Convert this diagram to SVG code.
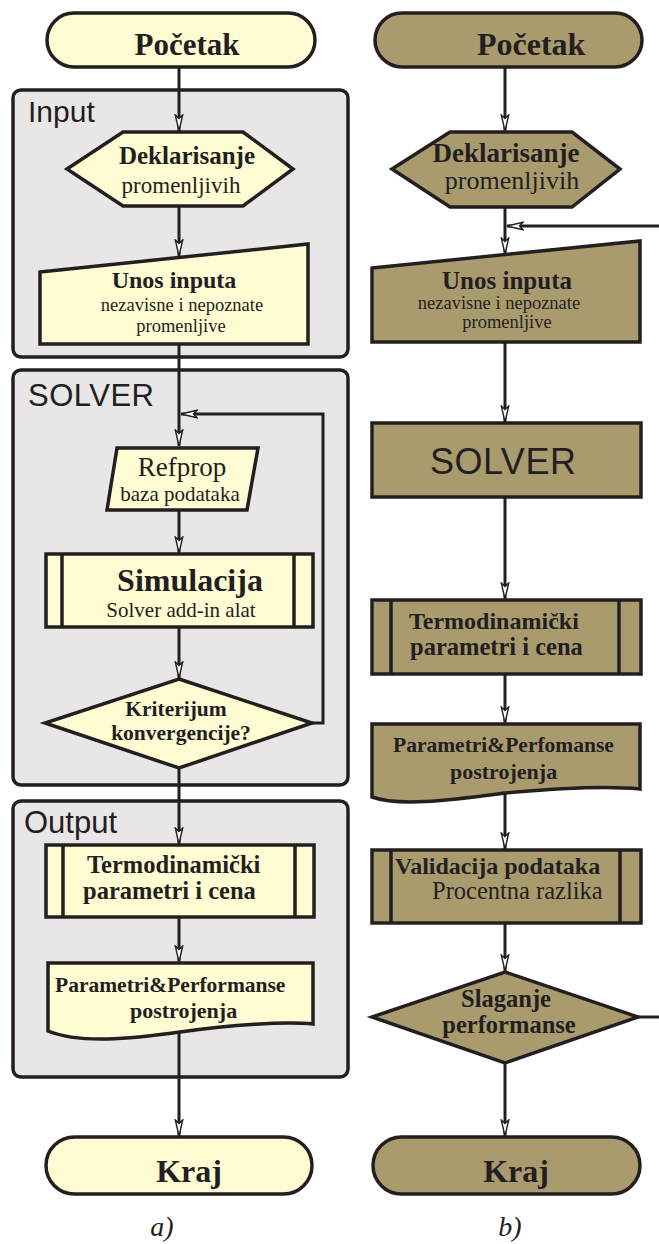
<svg xmlns="http://www.w3.org/2000/svg" width="659" height="1244" viewBox="0 0 659 1244">
<style>
.grp{fill:#e8e6e7;stroke:#231f20;stroke-width:3.5}
.a{fill:#fffbd2;stroke:#231f20;stroke-width:3.5;stroke-linejoin:miter}
.b{fill:#a99b6d;stroke:#231f20;stroke-width:3.5;stroke-linejoin:miter}
.in{stroke:#231f20;stroke-width:3.5;fill:none}
.c{stroke:#231f20;stroke-width:3;fill:none;marker-end:url(#arr)}
.cn{stroke:#231f20;stroke-width:3;fill:none}
.t{font-family:"Liberation Serif","Times New Roman",serif;fill:#231f20}
.bd{font-weight:bold}
.s{font-family:"Liberation Sans",Arial,sans-serif;fill:#231f20}
.m{text-anchor:middle}
</style>
<defs>
<marker id="arr" markerUnits="userSpaceOnUse" markerWidth="20" markerHeight="12" refX="17" refY="5" orient="auto">
<path d="M1,1.3 L17,5 L1,8.7 L4.5,5 Z" fill="#ffffff" stroke="#231f20" stroke-width="1.4" stroke-linejoin="miter"/>
</marker>
</defs>
<rect width="659" height="1244" fill="#ffffff"/>

<g id="group-input">
<rect class="grp" x="13" y="90" width="335" height="267" rx="8"/>
<text class="s" x="28" y="122" font-size="30">Input</text>
</g>
<g id="group-solver">
<rect class="grp" x="13" y="370" width="335" height="415" rx="8"/>
<text class="s" x="28" y="406" font-size="31" letter-spacing="0.5">SOLVER</text>
</g>
<g id="group-output">
<rect class="grp" x="13" y="801" width="335" height="276" rx="8"/>
<text class="s" x="24" y="833" font-size="31">Output</text>
</g>

<g id="a-pocetak">
<rect class="a" x="47" y="13" width="268" height="54" rx="27"/>
<text class="t bd m" x="187" y="55" font-size="31">Početak</text>
</g>
<g id="a-deklarisanje">
<polygon class="a" points="67,169 123,132 243,132 293,169 243,206 123,206"/>
<text class="t bd m" x="187" y="164" font-size="25">Deklarisanje</text>
<text class="t m" x="181" y="193" font-size="23">promenljivih</text>
</g>
<g id="a-unos">
<polygon class="a" points="40,272 308,244 308,344 40,344"/>
<text class="t bd m" x="174" y="288" font-size="24">Unos inputa</text>
<text class="t m" x="182" y="311" font-size="18.5">nezavisne i nepoznate</text>
<text class="t m" x="181" y="332" font-size="18.5">promenljive</text>
</g>
<g id="a-refprop">
<polygon class="a" points="117,448 258,448 247,510 107,510"/>
<text class="t m" x="182" y="476" font-size="27">Refprop</text>
<text class="t m" x="180" y="501" font-size="21">baza podataka</text>
</g>
<g id="a-simulacija">
<rect class="a" x="46" y="554" width="267" height="73"/>
<line class="in" x1="62" y1="554" x2="62" y2="627"/>
<line class="in" x1="294" y1="554" x2="294" y2="627"/>
<text class="t bd m" x="190" y="591" font-size="32">Simulacija</text>
<text class="t m" x="181" y="617" font-size="21">Solver add-in alat</text>
</g>
<g id="a-kriterijum">
<polygon class="a" points="179,679 312,723 179,768 45,723"/>
<text class="t bd m" x="176" y="716" font-size="21.5">Kriterijum</text>
<text class="t bd m" x="181" y="740" font-size="21.5">konvergencije?</text>
</g>
<g id="a-termo">
<rect class="a" x="46" y="845" width="268" height="72"/>
<line class="in" x1="63" y1="845" x2="63" y2="917"/>
<line class="in" x1="295" y1="845" x2="295" y2="917"/>
<text class="t bd" x="87" y="873" font-size="24.5">Termodinamički</text>
<text class="t bd" x="83" y="899" font-size="24.5">parametri i cena</text>
</g>
<g id="a-parametri">
<path class="a" d="M48,963 H313 V1024 C285,1021 230,1025 180,1032 C130,1039 80,1044 48,1031 Z"/>
<text class="t bd" x="55" y="992" font-size="21.5">Parametri&amp;Performanse</text>
<text class="t bd" x="130" y="1018" font-size="22">postrojenja</text>
</g>
<g id="a-kraj">
<rect class="a" x="46" y="1137" width="266" height="57" rx="28.5"/>
<text class="t bd m" x="189" y="1182" font-size="32">Kraj</text>
</g>
<g id="label-a">
<text class="t m" x="162" y="1236" font-size="28" font-style="italic">a)</text>
</g>

<g id="b-pocetak">
<rect class="b" x="375" y="13" width="267" height="54" rx="27"/>
<text class="t bd" x="477" y="55" font-size="32">Početak</text>
</g>
<g id="b-deklarisanje">
<polygon class="b" points="392,169 450,132 572,132 620,169 572,207 450,207"/>
<text class="t bd m" x="506" y="162" font-size="27">Deklarisanje</text>
<text class="t m" x="512" y="189" font-size="26">promenljivih</text>
</g>
<g id="b-unos">
<polygon class="b" points="372,268 640,241 640,342 372,342"/>
<text class="t bd m" x="507" y="289" font-size="25">Unos inputa</text>
<text class="t m" x="499" y="309" font-size="18.5">nezavisne i nepoznate</text>
<text class="t m" x="507" y="328" font-size="18.5">promenljive</text>
</g>
<g id="b-solver">
<rect class="b" x="372" y="423" width="269" height="74"/>
<text class="s" x="430" y="474" font-size="36" letter-spacing="0.5">SOLVER</text>
</g>
<g id="b-termo">
<rect class="b" x="372" y="600" width="269" height="74"/>
<line class="in" x1="391" y1="600" x2="391" y2="674"/>
<line class="in" x1="619" y1="600" x2="619" y2="674"/>
<text class="t bd" x="409" y="629" font-size="24">Termodinamički</text>
<text class="t bd" x="410" y="655" font-size="24.5">parametri i cena</text>
</g>
<g id="b-parametri">
<path class="b" d="M372,724 H640 V789 C612,786 560,788 505,793 C450,800 400,807 372,797 Z"/>
<text class="t bd" x="393" y="752" font-size="21.5">Parametri&amp;Perfomanse</text>
<text class="t bd" x="450" y="779" font-size="22">postrojenja</text>
</g>
<g id="b-validacija">
<rect class="b" x="372" y="850" width="269" height="73"/>
<line class="in" x1="391" y1="850" x2="391" y2="923"/>
<line class="in" x1="620" y1="850" x2="620" y2="923"/>
<text class="t bd" x="395" y="874" font-size="24">Validacija podataka</text>
<text class="t" x="432" y="899" font-size="24.5">Procentna razlika</text>
</g>
<g id="b-slaganje">
<polygon class="b" points="505,972 638,1017 505,1063 372,1017"/>
<text class="t bd m" x="506" y="1007" font-size="24.5">Slaganje</text>
<text class="t bd m" x="509" y="1033" font-size="24.5">performanse</text>
</g>
<g id="b-kraj">
<rect class="b" x="373" y="1137" width="267" height="57" rx="28.5"/>
<text class="t bd m" x="516" y="1182" font-size="32">Kraj</text>
</g>
<g id="label-b">
<text class="t m" x="510" y="1236" font-size="28" font-style="italic">b)</text>
</g>

<g id="connectors">
<line class="c" x1="179" y1="67" x2="179" y2="131"/>
<line class="c" x1="179" y1="207" x2="179" y2="256"/>
<line class="c" x1="179" y1="344" x2="179" y2="446"/>
<polyline class="c" points="312,723 323,723 323,414 181,414"/>
<line class="c" x1="179" y1="510" x2="179" y2="553"/>
<line class="c" x1="179" y1="627" x2="179" y2="678"/>
<line class="c" x1="179" y1="768" x2="179" y2="844"/>
<line class="c" x1="179" y1="917" x2="179" y2="962"/>
<line class="c" x1="179" y1="1032" x2="179" y2="1136"/>

<line class="c" x1="505" y1="67" x2="505" y2="131"/>
<line class="c" x1="505" y1="207" x2="505" y2="254"/>
<line class="c" x1="659" y1="226" x2="507" y2="226"/>
<line class="c" x1="505" y1="342" x2="505" y2="422"/>
<line class="c" x1="505" y1="497" x2="505" y2="599"/>
<line class="c" x1="505" y1="674" x2="505" y2="723"/>
<line class="c" x1="505" y1="793" x2="505" y2="849"/>
<line class="c" x1="505" y1="923" x2="505" y2="971"/>
<line class="c" x1="505" y1="1063" x2="505" y2="1136"/>
<line class="cn" x1="638" y1="1017" x2="659" y2="1017"/>
</g>
</svg>
